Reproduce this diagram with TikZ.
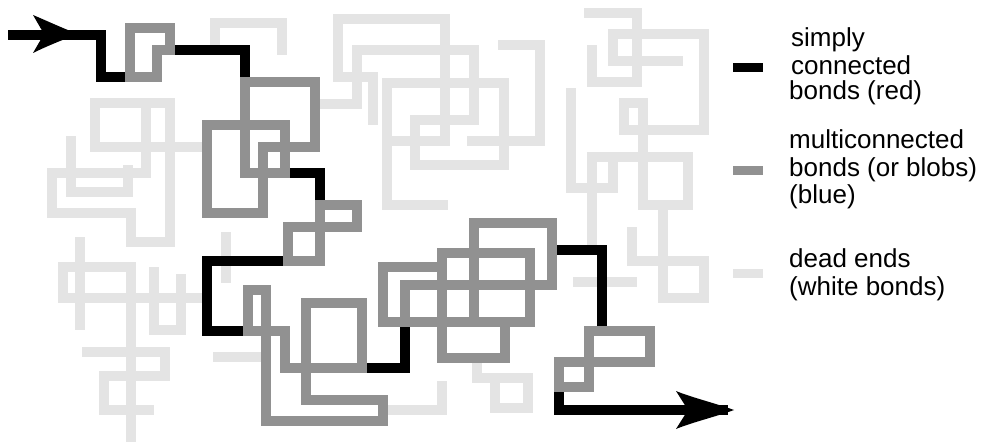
\documentclass[tikz,border=0pt]{standalone}
\usepackage{fontspec}
\setmainfont{Liberation Sans}
\definecolor{bondblue}{RGB}{145,145,145}
\definecolor{bondwhite}{RGB}{228,228,228}
\begin{document}
\begin{tikzpicture}[x=1pt,y=-1pt,
  deadend/.style={draw=bondwhite,line width=10.5pt,line cap=rect,line join=miter},
  blob/.style={draw=bondblue,line width=10.5pt,line cap=rect,line join=miter},
  backbone/.style={draw=black,line width=10.5pt,line cap=butt,line join=miter},
  legtext/.style={anchor=base west,inner sep=0pt,font=\fontsize{26}{28}\selectfont},
  swatch/.style={inner sep=0pt,minimum width=30pt,minimum height=9pt,anchor=west}]
\useasboundingbox (0,0) rectangle (984,443);

% ---------- dead ends (white bonds) ----------
\draw[deadend] (215,50) -- (215,23) -- (282,23) -- (282,50);
\draw[deadend] (315,104) -- (357,104) -- (357,50) -- (474,50) -- (474,120) -- (415,120) -- (415,165) -- (504,165) -- (504,83) -- (387,83) -- (387,205) -- (443,205);
\draw[deadend] (373,120) -- (373,77) -- (338,77) -- (338,19) -- (445,19) -- (445,141) -- (387,141);
\draw[deadend] (472,141) -- (540,141) -- (540,45) -- (503,45);
\draw[deadend] (571,93) -- (571,188) -- (613,188) -- (613,157);
\draw[deadend] (592,245) -- (592,157) -- (688,157) -- (688,205) -- (643,205) -- (643,103) -- (624,103) -- (624,130) -- (704,130) -- (704,34) -- (613,34) -- (613,61) -- (678,61);
\draw[deadend] (589,13) -- (637,13) -- (637,82) -- (592,82) -- (592,50);
\draw[deadend] (663,205) -- (663,298) -- (704,298) -- (704,261) -- (632,261) -- (632,232);
\draw[deadend] (578,282) -- (632,282);
\draw[deadend] (207,147) -- (95,147) -- (95,103) -- (170,103) -- (170,242) -- (131,242) -- (131,213) -- (52,213) -- (52,173) -- (146,173) -- (146,103);
\draw[deadend] (71,141) -- (71,192) -- (128,192) -- (128,170);
\draw[deadend] (80,242) -- (80,325);
\draw[deadend] (207,298) -- (63,298) -- (63,267) -- (131,267) -- (131,437);
\draw[deadend] (154,272) -- (154,330) -- (181,330) -- (181,279);
\draw[deadend] (87,352) -- (165,352) -- (165,376) -- (104,376) -- (104,410) -- (149,410);
\draw[deadend] (226,237) -- (226,278);
\draw[deadend] (218,357) -- (261,357);
\draw[deadend] (383,410) -- (442,410) -- (442,386);
\draw[deadend] (477,358) -- (477,378) -- (528,378) -- (528,408) -- (495,408) -- (495,378);

% ---------- simply connected bonds (red) ----------
\draw[backbone] (8,35) -- (101,35) -- (101,77) -- (130,77);
\fill (78,34) .. controls (62,28) and (45,20) .. (33,15) -- (44,34) -- (33,53) .. controls (45,47) and (62,40) .. (78,34) -- cycle;
\draw[backbone] (170,50) -- (245,50) -- (245,82);
\draw[backbone] (285,173) -- (320,173) -- (320,205);
\draw[backbone] (288,261) -- (207,261) -- (207,331) -- (248,331);
\draw[backbone] (362,368) -- (405,368) -- (405,322);
\draw[backbone] (552,250) -- (602,250) -- (602,331);
\draw[backbone] (559,387) -- (559,410) -- (728,410);
\fill (734,410) .. controls (718,404) and (690,397) .. (676,391) -- (688,410) -- (676,429) .. controls (690,423) and (718,416) .. (734,410) -- cycle;

% ---------- multiconnected bonds (blobs, blue) ----------
\draw[blob] (130,77) -- (130,28) -- (170,28) -- (170,50) -- (157,50) -- (157,77) -- cycle;
\draw[blob] (245,173) -- (245,82) -- (315,82) -- (315,147) -- (263,147) -- (263,213) -- (207,213) -- (207,125) -- (285,125) -- (285,173) -- cycle;
\draw[blob] (320,227) rectangle (357,205);
\draw[blob] (288,227) rectangle (320,261);
\draw[blob] (248,331) -- (248,290) -- (266,290) -- (266,421) -- (383,421) -- (383,400) -- (306,400) -- (306,303) -- (362,303) -- (362,368) -- (285,368) -- (285,331) -- cycle;
\draw[blob] (442,267) -- (383,267) -- (383,322) -- (530,322) -- (530,253) -- (442,253) -- (442,358) -- (505,358) -- (505,322);
\draw[blob] (405,322) -- (405,285) -- (552,285) -- (552,223) -- (474,223) -- (474,322);
\draw[blob] (589,387) -- (589,331) -- (650,331) -- (650,362) -- (559,362) -- (559,387) -- cycle;

% ---------- legend ----------
\node[swatch,fill=black] (swred) at (733,68) {};
\node[swatch,fill=bondblue] (swblue) at (733,171) {};
\node[swatch,fill=bondwhite] (swwhite) at (733,274) {};
\node[legtext] (t1) at (791,47) {simply};
\node[legtext] (t2) at (791,75) {connected};
\node[legtext] (t3) at (789,100) {bonds (red)};
\node[legtext] (t4) at (789,149) {multiconnected};
\node[legtext] (t5) at (789,177) {bonds (or blobs)};
\node[legtext] (t6) at (789,204) {(blue)};
\node[legtext] (t7) at (789,268) {dead ends};
\node[legtext] (t8) at (789,296) {(white bonds)};
\end{tikzpicture}
\end{document}
